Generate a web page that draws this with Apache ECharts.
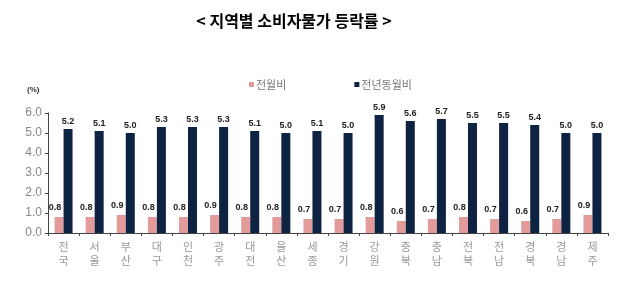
<!DOCTYPE html>
<html><head><meta charset="utf-8">
<script src="https://cdn.jsdelivr.net/npm/echarts@6/dist/echarts.min.js"></script>
<style>html,body{margin:0;padding:0;background:#fff}#c{width:634px;height:293px}</style>
</head><body><div id="c"></div>
<script>
const categories = ['전국','서울','부산','대구','인천','광주','대전','울산','세종','경기','강원','충북','충남','전북','전남','경북','경남','제주'];
const momValues = [0.8,0.8,0.9,0.8,0.8,0.9,0.8,0.8,0.7,0.7,0.8,0.6,0.7,0.8,0.7,0.6,0.7,0.9];
const yoyValues = [5.2,5.1,5.0,5.3,5.3,5.3,5.1,5.0,5.1,5.0,5.9,5.6,5.7,5.5,5.5,5.4,5.0,5.0];
const seriesNames = ['전월비','전년동월비'];
const titleText = '< 지역별 소비자물가 등락률 >';
const unitText = '(%)';

const chart = echarts.init(document.getElementById('c'));
const lbl = {show:true, position:'top', distance:3, fontSize:9, fontWeight:'bold', color:'#222', fontFamily:'Liberation Sans, Arial',
  formatter: p => p.value.toFixed(1)};
chart.setOption({
  animation:false,
  title:{text:titleText, left:289, top:8, textAlign:'center',
    textStyle:{fontSize:16, fontWeight:'bold', color:'#000', fontFamily:'Noto Sans CJK KR'}},
  legend:{data:seriesNames, top:74, left:244, itemGap:68, itemWidth:5, itemHeight:5, icon:'rect',
    textStyle:{fontSize:11, color:'#777', fontFamily:'Noto Sans CJK KR', padding:[0,0,0,-3]}},
  graphic:[{type:'text', left:27, top:86, style:{text:unitText, fontSize:8, fontWeight:'bold', fill:'#333', fontFamily:'Liberation Sans'}}],
  grid:{left:48, right:26, top:113, bottom:60},
  xAxis:{type:'category', data:categories,
    axisLine:{lineStyle:{color:'#444', width:1}},
    axisTick:{show:true, length:3, lineStyle:{color:'#444'}},
    axisLabel:{interval:0, margin:7, fontSize:11, lineHeight:14, color:'#999', fontFamily:'Noto Sans CJK KR',
      formatter: v => v.split('').join('\n')}},
  yAxis:{type:'value', min:0, max:6, interval:1,
    splitLine:{show:false},
    axisLine:{show:true, lineStyle:{color:'#444'}},
    axisTick:{show:true, length:3, lineStyle:{color:'#444'}},
    axisLabel:{margin:6, fontSize:12, color:'#888', fontFamily:'Liberation Sans', formatter: v => v.toFixed(1)}},
  series:[
    {name:seriesNames[0], type:'bar', data:momValues, barWidth:9, barGap:'0%', itemStyle:{color:'#e29a9a'},
      label:Object.assign({}, lbl, {offset:[-4,-2]})},
    {name:seriesNames[1], type:'bar', data:yoyValues, barWidth:9, itemStyle:{color:'#0e2342'}, label:lbl}
  ]
});
</script></body></html>
